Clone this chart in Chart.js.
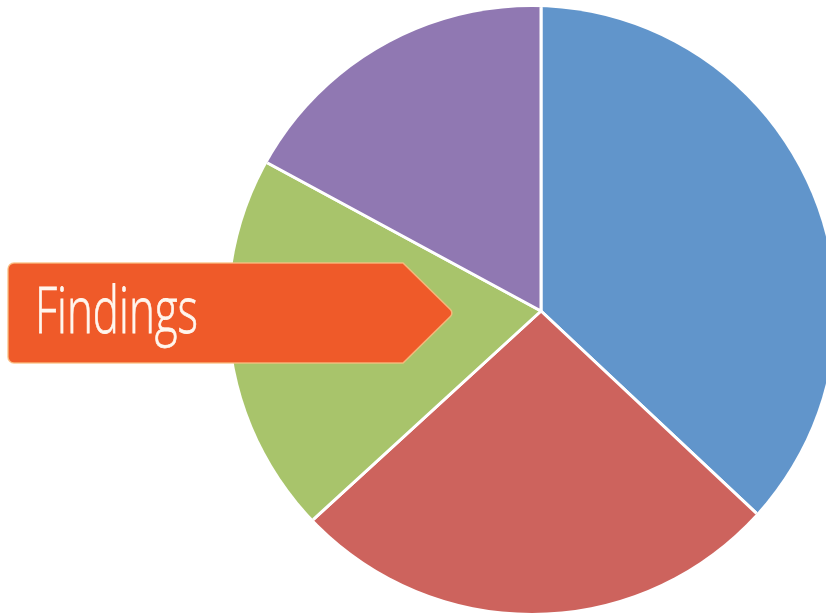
<!DOCTYPE html>
<html>
<head>
<meta charset="utf-8">
<script src="https://cdn.jsdelivr.net/npm/chart.js@4.4.1/dist/chart.umd.min.js"></script>
<style>
  html, body { margin: 0; padding: 0; background: #ffffff; overflow: hidden; }
  #wrap { width: 826px; height: 615px; overflow: hidden; position: relative; }
  #pie { display: block; position: absolute; left: 0; top: -40px; }
</style>
</head>
<body>
<div id="wrap"><canvas id="pie" width="900" height="720"></canvas></div>
<script>
// Slice shares, clockwise from twelve o'clock
const categories = ['Blue', 'Red', 'Green', 'Purple'];
const shares = [37.0, 26.2, 19.7, 17.1];
const sliceColors = ['#6195CB', '#CD635D', '#A8C46B', '#9078B2'];
const bannerText = 'Findings';

// The canvas sits 40px above the page top
const shiftY = 40;

// Round outline of the pie (its centre sits a little left of the slice vertex)
const outline = { x: 532, y: 310 + shiftY, r: 303 };

const outlinePlugin = {
  id: 'pieOutline',
  beforeDatasetsDraw(chart) {
    const ctx = chart.ctx;
    ctx.save();
    ctx.beginPath();
    ctx.arc(outline.x, outline.y, outline.r, 0, Math.PI * 2);
    ctx.clip();
  },
  afterDatasetsDraw(chart) {
    chart.ctx.restore();
  }
};

// Orange arrow-shaped callout with its caption
const bannerPlugin = {
  id: 'banner',
  afterDraw(chart) {
    const ctx = chart.ctx;
    const left = 8, top = 263 + shiftY, bottom = 363 + shiftY, shoulder = 403, tip = 454;
    const mid = (top + bottom) / 2;
    const r = 6;
    ctx.save();
    ctx.beginPath();
    ctx.moveTo(left + r, top);
    ctx.lineTo(shoulder, top);
    ctx.arcTo(tip, mid, shoulder, bottom, 5);
    ctx.lineTo(shoulder, bottom);
    ctx.lineTo(left + r, bottom);
    ctx.arcTo(left, bottom, left, bottom - r, r);
    ctx.lineTo(left, top + r);
    ctx.arcTo(left, top, left + r, top, r);
    ctx.closePath();
    ctx.fillStyle = '#EF5A29';
    ctx.fill();
    ctx.lineWidth = 1.5;
    ctx.strokeStyle = 'rgba(250, 190, 130, 0.85)';
    ctx.stroke();

    ctx.font = '300 65px "Open Sans"';
    ctx.fillStyle = '#FFF6EE';
    ctx.strokeStyle = '#FFF6EE';
    ctx.lineWidth = 0.8;
    ctx.textBaseline = 'alphabetic';
    ctx.textAlign = 'left';
    const w = ctx.measureText(bannerText).width;
    const targetW = 163;
    ctx.translate(35, 333 + shiftY);
    ctx.scale(targetW / w, 1);
    ctx.fillText(bannerText, 0, 0);
    ctx.strokeText(bannerText, 0, 0);
    ctx.restore();
  }
};

new Chart(document.getElementById('pie'), {
  type: 'pie',
  data: {
    labels: categories,
    datasets: [{
      data: shares,
      backgroundColor: sliceColors,
      borderColor: '#ffffff',
      borderWidth: 3,
      hoverOffset: 0
    }]
  },
  options: {
    responsive: false,
    animation: false,
    events: [],
    // slice vertex at (541, 311) on the page
    layout: { padding: { left: 215, right: 33, top: 25, bottom: 43 } },
    plugins: {
      legend: { display: false },
      tooltip: { enabled: false },
      title: { display: false }
    }
  },
  plugins: [outlinePlugin, bannerPlugin]
});
</script>
</body>
</html>
